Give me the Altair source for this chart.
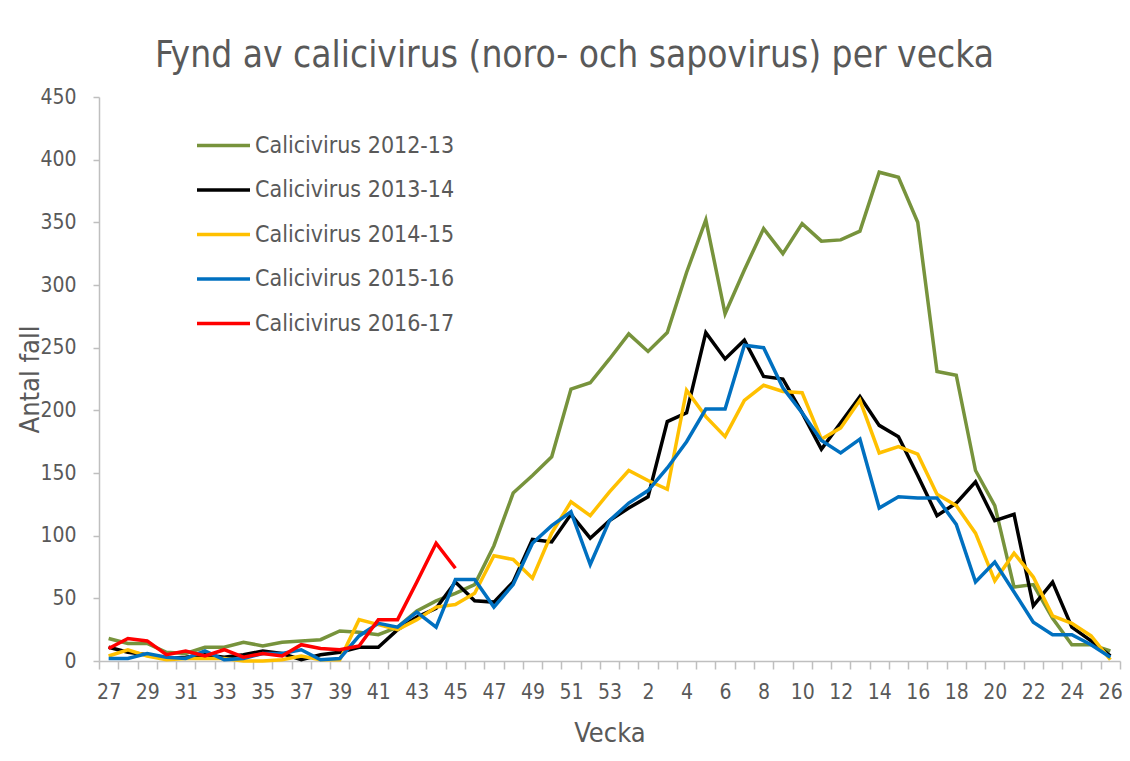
import altair as alt
import pandas as pd

weeks = ["27", "28", "29", "30", "31", "32", "33", "34", "35", "36", "37", "38", "39",
         "40", "41", "42", "43", "44", "45", "46", "47", "48", "49", "50", "51", "52", "53",
         "1", "2", "3", "4", "5", "6", "7", "8", "9", "10", "11", "12", "13", "14", "15",
         "16", "17", "18", "19", "20", "21", "22", "23", "24", "25", "26"]

s2012 = [18, 14, 14, 7, 6, 11, 11, 15, 12, 15, 16, 17, 24, 23, 21, 27, 40, 48, 54, 61,
         92, 134, 148, 163, 217, 222, 241, 261, 247, 262, 310, 352, 277, 312, 345, 325,
         349, 335, 336, 343, 390, 386, 350, 231, 228, 152, 124, 59, 61, 34, 13, 13, 8]
s2013 = [11, 7, 5, 2, 3, 5, 3, 5, 8, 6, 1, 5, 7, 11, 11, 25, 35, 42, 63, 48,
         47, 63, 97, 95, 117, 98, 112, 122, 131, 191, 198, 262, 241, 256, 227, 225,
         198, 169, 190, 211, 188, 179, 148, 116, 126, 143, 112, 117, 44, 63, 27, 16, 4]
s2014 = [4, 9, 4, 1, 2, 2, 2, 0, 0, 1, 4, 1, 1, 33, 29, 25, 33, 43, 45, 54,
         84, 81, 66, 102, 127, 116, 135, 152, 144, 137, 216, 195, 179, 208, 220, 215,
         214, 177, 186, 208, 166, 171, 165, 133, 124, 102, 64, 86, 67, 36, 30, 20, 1]
s2015 = [2, 2, 6, 3, 2, 8, 1, 2, 6, 6, 9, 1, 2, 20, 30, 27, 39, 27, 65, 65,
         43, 61, 94, 108, 119, 77, 112, 126, 136, 154, 175, 201, 201, 252, 250, 218,
         198, 176, 166, 177, 122, 131, 130, 130, 109, 63, 79, 55, 31, 21, 21, 13, 3]
s2016 = [10, 18, 16, 5, 8, 4, 9, 3, 6, 4, 13, 10, 9, 12, 33, 33, 63, 94, 74]

names = ["Calicivirus 2012-13", "Calicivirus 2013-14", "Calicivirus 2014-15",
         "Calicivirus 2015-16", "Calicivirus 2016-17"]
colors = ["#77933C", "#000000", "#FFC000", "#0070C0", "#FF0000"]
series = [s2012, s2013, s2014, s2015, s2016]

rows = []
for name, vals in zip(names, series):
    for i, v in enumerate(vals):
        rows.append({"week": weeks[i], "idx": i, "value": v, "series": name})
df = pd.DataFrame(rows)

FONT = "DejaVu Sans Condensed"
GREY = "#595959"
AXIS = "#BFBFBF"

chart = alt.Chart(df).mark_line(strokeWidth=3.5, strokeJoin="miter").encode(
    x=alt.X("week:N", sort=weeks,
            scale=alt.Scale(type="band", domain=weeks, paddingInner=0, paddingOuter=0),
            axis=alt.Axis(title="Vecka", labelAngle=0, tickBand="extent", tickSize=8,
                          tickColor=AXIS, domainColor=AXIS, domainWidth=1.5, tickWidth=1.5,
                          labelExpr="((toNumber(datum.value) >= 27) == (toNumber(datum.value) % 2 == 1)) ? datum.value : ''",
                          labelFont=FONT, labelFontSize=21, labelColor=GREY, labelPadding=12,
                          titleFont=FONT, titleFontSize=27, titleFontWeight="normal",
                          titleColor=GREY, titleY=72, titleBaseline="middle")),
    y=alt.Y("value:Q", scale=alt.Scale(domain=[0, 450], nice=False),
            axis=alt.Axis(title="Antal fall", values=list(range(0, 451, 50)), grid=False,
                          tickSize=6, tickColor=AXIS, domainColor=AXIS, domainWidth=1.5,
                          tickWidth=1.5, labelFont=FONT, labelFontSize=21, labelColor=GREY,
                          labelPadding=17, titleFont=FONT, titleFontSize=27,
                          titleFontWeight="normal", titleColor=GREY, titleX=-69,
                          titleY=282, titleAngle=-90, titleBaseline="middle",
                          titleAlign="center")),
    color=alt.Color("series:N",
                    scale=alt.Scale(domain=names, range=colors),
                    legend=alt.Legend(title=None, orient="none", legendX=96, legendY=20,
                                      symbolType="stroke", symbolSize=2809,
                                      symbolStrokeWidth=3.5, labelFont=FONT,
                                      labelFontSize=23, labelColor=GREY, labelOffset=3,
                                      labelLimit=0, rowPadding=3.5)),
    order=alt.Order("idx:Q"),
).properties(
    width=1021,
    height=564,
    title=alt.TitleParams("Fynd av calicivirus (noro- och sapovirus) per vecka",
                          font=FONT, fontSize=36.8, fontWeight="normal", color=GREY,
                          anchor="middle", dx=-35, offset=11),
    padding={"left": 91, "top": 89, "right": 2, "bottom": 95},
    autosize=alt.AutoSizeParams(type="none"),
).configure_view(stroke=None)

chart.save("out.html", embed_options={"renderer": "svg", "actions": False})
